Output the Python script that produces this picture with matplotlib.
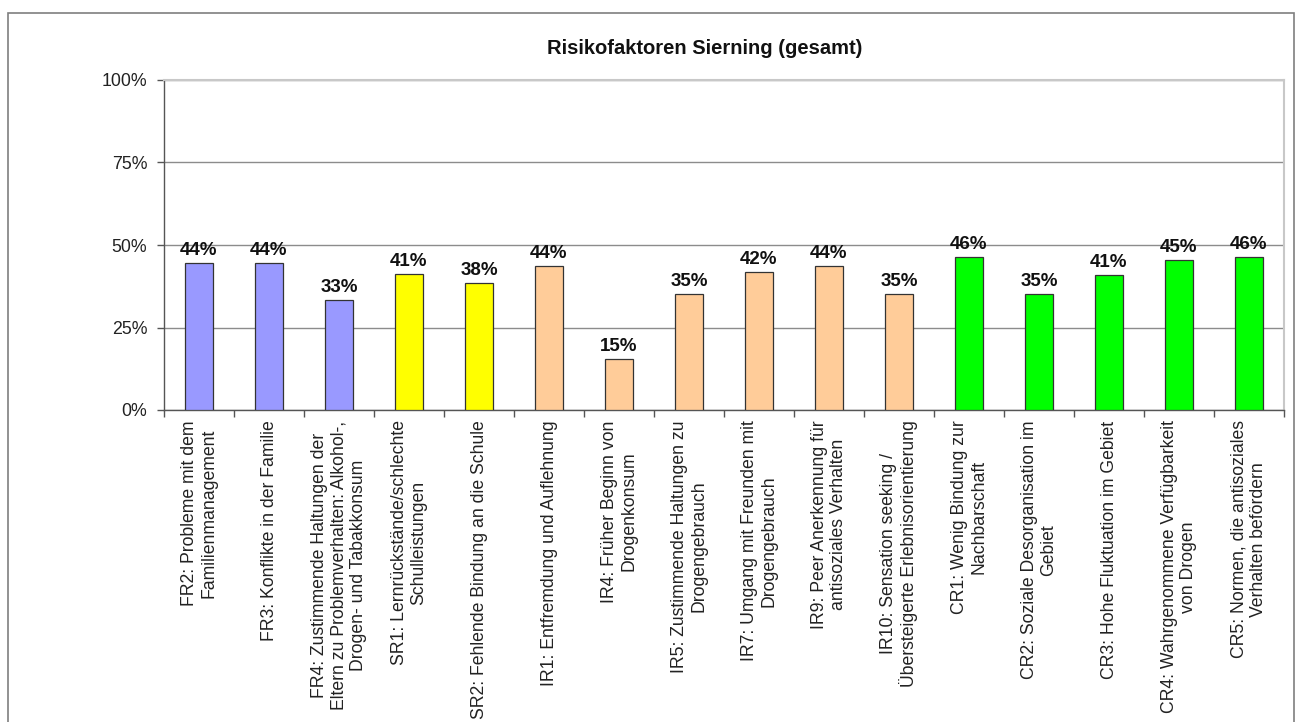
import matplotlib
matplotlib.use("Agg")
import matplotlib.pyplot as plt
from matplotlib.patches import Rectangle

plt.rcParams['font.family'] = ['Liberation Sans', 'DejaVu Sans']

title = "Risikofaktoren Sierning (gesamt)"

categories = [
    "FR2: Probleme mit dem\nFamilienmanagement",
    "FR3: Konflikte in der Familie",
    "FR4: Zustimmende Haltungen der\nEltern zu Problemverhalten: Alkohol-,\nDrogen- und Tabakkonsum",
    "SR1: Lernrückstände/schlechte\nSchulleistungen",
    "SR2: Fehlende Bindung an die Schule",
    "IR1: Entfremdung und Auflehnung",
    "IR4: Früher Beginn von\nDrogenkonsum",
    "IR5: Zustimmende Haltungen zu\nDrogengebrauch",
    "IR7: Umgang mit Freunden mit\nDrogengebrauch",
    "IR9: Peer Anerkennung für\nantisoziales Verhalten",
    "IR10: Sensation seeking /\nÜbersteigerte Erlebnisorientierung",
    "CR1: Wenig Bindung zur\nNachbarschaft",
    "CR2: Soziale Desorganisation im\nGebiet",
    "CR3: Hohe Fluktuation im Gebiet",
    "CR4: Wahrgenommene Verfügbarkeit\nvon Drogen",
    "CR5: Normen, die antisoziales\nVerhalten befördern",
]

# share of respondents (percent) per risk factor
values = [44.4, 44.4, 33.3, 41.1, 38.4, 43.7, 15.4, 35.2,
          41.9, 43.7, 35.2, 46.3, 35.2, 40.9, 45.4, 46.3]

# domain of each factor: family, school, individual/peer, community
domains = ["FR", "FR", "FR", "SR", "SR", "IR", "IR", "IR",
           "IR", "IR", "IR", "CR", "CR", "CR", "CR", "CR"]
domain_colors = {"FR": "#9999FF", "SR": "#FFFF00", "IR": "#FFCC99", "CR": "#00FF00"}

y_ticks = [0, 25, 50, 75, 100]

W, H = 1299, 722
fig = plt.figure(figsize=(W / 100, H / 100), dpi=100)
fig.patch.set_facecolor("white")

# outer chart frame
fig.patches.append(Rectangle((8 / W, -0.05), (1294 - 8) / W, 1.05 - 13 / H,
                             transform=fig.transFigure, fill=False,
                             edgecolor="#7f7f7f", linewidth=1.2))

ax = fig.add_axes([164 / W, 1 - 410 / H, (1284 - 164) / W, (410 - 80) / H])

n = len(values)
centers = [i + 0.5 for i in range(n)]
colors = [domain_colors[d] for d in domains]
bars = ax.bar(centers, values, width=0.4, color=colors,
              edgecolor="#333333", linewidth=0.9, zorder=3)

for b, v in zip(bars, values):
    ax.annotate(f"{v:.0f}%", (b.get_x() + b.get_width() / 2, v),
                xytext=(0, 3), textcoords="offset points",
                ha="center", va="bottom", fontsize=13.5, fontweight="bold",
                color="#111111", zorder=4)

ax.set_xlim(0, n)
ax.set_ylim(0, 100)
ax.set_yticks(y_ticks)
ax.set_yticklabels([f"{t}%" for t in y_ticks], fontsize=12.8, color="#222222")
ax.tick_params(axis="y", length=5, width=1, color="#555555", pad=7)

ax.set_xticks(centers)
ax.set_xticklabels(categories, rotation=90, ha="center", va="top",
                   multialignment="center", fontsize=12.7, color="#222222",
                   linespacing=1.17)
ax.tick_params(axis="x", which="major", length=0, pad=7.5)
ax.set_xticks(range(n + 1), minor=True)
ax.tick_params(axis="x", which="minor", length=5, width=1, color="#555555")

ax.yaxis.grid(True, color="#8c8c8c", linewidth=1.0, zorder=0)
ax.set_axisbelow(True)

for side in ("left", "bottom"):
    ax.spines[side].set_color("#555555")
    ax.spines[side].set_linewidth(1.0)
ax.spines["right"].set_color("#c8c8c8")
ax.spines["right"].set_linewidth(1.5)
ax.spines["top"].set_color("#c8c8c8")
ax.spines["top"].set_linewidth(1.5)

fig.text(705 / W, 1 - 48 / H, title, ha="center", va="center",
         fontsize=14.5, fontweight="bold", color="#111111")

fig.savefig("out.png", dpi=100)
